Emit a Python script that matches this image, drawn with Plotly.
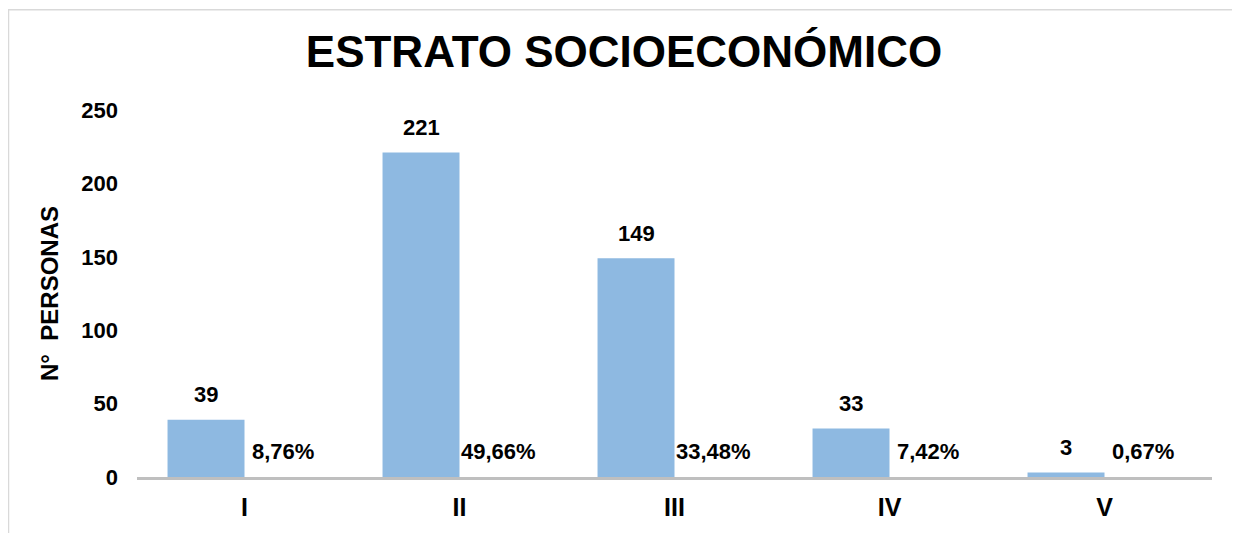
import plotly.graph_objects as go

categories = ["I", "II", "III", "IV", "V"]
counts = [39, 221, 149, 33, 3]
percent_labels = ["8,76%", "49,66%", "33,48%", "7,42%", "0,67%"]
percent_values = [0.0876, 0.4966, 0.3348, 0.0742, 0.0067]

FONT = "Liberation Sans, Arial, sans-serif"
BAR_COLOR = "#8EB9E1"

W, H = 1232, 525  # page has an 8px body margin

fig = go.Figure()
fig.add_trace(go.Bar(
    x=categories, y=counts, name="N° personas",
    marker=dict(color=BAR_COLOR, line=dict(width=0)),
    hoverinfo="x+y",
))
fig.add_trace(go.Bar(
    x=categories, y=percent_values, name="Porcentaje",
    marker=dict(color="rgba(0,0,0,0)", line=dict(width=0)),
    hoverinfo="skip",
))

annotations = []
for c, v in zip(categories, counts):
    annotations.append(dict(
        x=c, y=v, xref="x", yref="y", text=f"<b>{v}</b>", showarrow=False,
        xshift=-38.5, yshift=25, yanchor="middle",
        font=dict(family=FONT, size=22, color="black"),
    ))
for c, p, lab in zip(categories, percent_values, percent_labels):
    annotations.append(dict(
        x=c, y=p, xref="x", yref="y", text=f"<b>{lab}</b>", showarrow=False,
        xshift=38.5, yshift=25, yanchor="middle",
        font=dict(family=FONT, size=22, color="black"),
    ))

L, T, R, B = 129, 102, 28, 51
pw = W - L - R
ph = H - T - B

fig.update_layout(
    width=W, height=H,
    margin=dict(l=L, r=R, t=T, b=B),
    paper_bgcolor="white", plot_bgcolor="white",
    showlegend=False,
    barmode="group", bargap=0.284, bargroupgap=0,
    title=dict(
        text="<b>ESTRATO SOCIOECONÓMICO</b>",
        x=0.5, xanchor="center", xref="container",
        y=1 - 44 / H, yanchor="middle", yref="container",
        font=dict(family=FONT, size=44, color="black"),
    ),
    font=dict(family=FONT, color="black"),
    annotations=annotations,
    shapes=[dict(
        type="rect", xref="paper", yref="paper",
        x0=(0.5 - L) / pw, x1=(W + 20 - L) / pw,
        y0=-(B + 20) / ph, y1=(ph + T - 0.5) / ph,
        line=dict(color="#D9D9D9", width=1.5), fillcolor="rgba(0,0,0,0)",
        layer="below",
    )],
)

fig.update_xaxes(
    showline=True, linecolor="#BFBFBF", linewidth=3,
    showgrid=False, ticks="",
    tickfont=dict(family=FONT, size=25, color="black"),
    tickprefix="<b>", ticksuffix="</b>",
    ticklabelstandoff=6,
)
fig.update_yaxes(
    range=[0, 250], dtick=50, showgrid=False, zeroline=False,
    showline=False, ticks="",
    tickfont=dict(family=FONT, size=22, color="black"),
    tickprefix="<b>", ticksuffix="</b>",
    ticklabelstandoff=18,
    title=dict(text="<b>N°  PERSONAS</b>", standoff=15,
               font=dict(family=FONT, size=24, color="black")),
)

fig.write_html("out.html")
